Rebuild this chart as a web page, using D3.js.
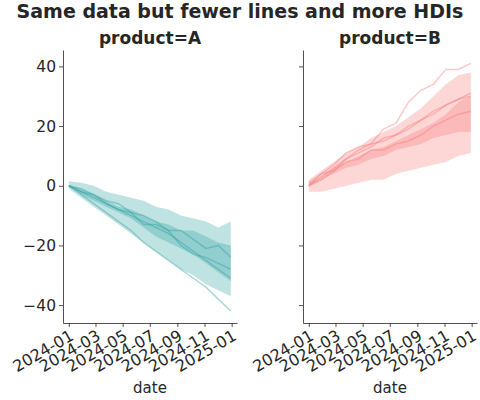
<!DOCTYPE html><html><head><meta charset="utf-8"><script src="https://cdn.jsdelivr.net/npm/d3@7"></script>
<style>body{margin:0;background:#fff}text{font-family:"DejaVu Sans",sans-serif;fill:#262626}</style></head><body><svg id="c" width="480" height="400"></svg>
<script>
const weeks=[0,4,8,12,16,20,24,28,32,36,40,44,48,52];
const yTicks=[-40,-20,0,20,40];
const xTickLabels=["2024-01","2024-03","2024-05","2024-07","2024-09","2024-11","2025-01"];
const aOuterLo=[-1,-4,-7,-10,-13,-16,-19,-22,-25,-28,-30,-33,-35,-37];
const aOuterHi=[1.5,1,0,-2,-3,-4,-5,-7,-8,-10,-11,-12,-14,-12];
const aInnerLo=[0,-3,-5,-7,-9,-11,-14,-17,-19,-21,-23,-26,-29,-32];
const aInnerHi=[0,-1,-3,-5,-7,-8,-10,-12,-13,-15,-15,-17,-19,-20];
const aLines=[[0,-3,-6,-9,-12,-15,-19,-22,-25,-28,-31,-34,-38,-42],
[0,-2,-4,-6,-8,-10,-12,-14,-16,-19,-22,-25,-28,-31],
[0,-1,-3,-6,-8,-9,-13,-13,-15,-20,-23,-24,-26,-28],
[0,-2,-3,-5,-6,-9,-10,-12,-15,-15,-18,-21,-20,-24]];
const bOuterLo=[-2,-2,-1,0,1,2,2,4,5,6,7,8,10,11];
const bOuterHi=[2,5,8,11,13,16,18,20,23,26,30,34,37,38];
const bInnerLo=[0,2,4,6,7,9,10,12,13,14,16,17,18,18];
const bInnerHi=[1,3,6,8,10,12,13,15,17,19,21,24,28,30];
const bLines=[[1,4,7,11,13,14,19,21,28,32,34,39,39,41],
[0,3,6,9,11,13,16,17,20,22,24,27,29,30],
[0,2,5,8,9,12,12,14,15,17,20,22,24,25],
[0,4,5,9,12,14,15,17,19,22,25,27,29,31]];
const svg=d3.select("#c");
const t0=new Date(2024,0,1);
const dates=weeks.map(w=>d3.timeDay.offset(t0,Math.min(w*7,365)));
const y=d3.scaleLinear().domain([-46,45.5]).range([323,50]);
svg.append("text").attr("x",240).attr("y",18).attr("text-anchor","middle").style("font-size","19px").style("font-weight","bold").text("Same data but fewer lines and more HDIs");
function panel(x0,x1,name,color,oLo,oHi,iLo,iHi,lines,showY){
  const x=d3.scaleTime().domain([new Date(2023,11,19),new Date(2025,0,13)]).range([x0,x1]);
  const g=svg.append("g");
  const area=(lo,hi)=>d3.area().x((d,i)=>x(dates[i])).y0((d,i)=>y(lo[i])).y1((d,i)=>y(hi[i]))(lo);
  g.append("path").attr("d",area(oLo,oHi)).attr("fill",color).attr("opacity",0.3);
  g.append("path").attr("d",area(iLo,iHi)).attr("fill",color).attr("opacity",0.3);
  lines.forEach(l=>g.append("path").attr("d",d3.line().x((d,i)=>x(dates[i])).y(d=>y(d))(l)).attr("fill","none").attr("stroke",color).attr("stroke-width",1.5).attr("opacity",0.4));
  const xa=g.append("g").attr("transform","translate(0,323)").call(d3.axisBottom(x).tickValues(xTickLabels.map(s=>d3.timeParse("%Y-%m")(s))).tickFormat(d3.timeFormat("%Y-%m")).tickSize(4).tickSizeOuter(0));
  xa.selectAll("text").attr("text-anchor","end").attr("transform","rotate(-30)").attr("dx","-0.2em").attr("dy","0.6em").style("font-size","16px");
  const ya=g.append("g").attr("transform",`translate(${x0},0)`).call(d3.axisLeft(y).tickValues(yTicks).tickSize(4).tickSizeOuter(0).tickFormat(showY?d3.format("d"):""));
  ya.selectAll("text").style("font-size","15.5px").text(d=>showY?(d<0?"\u2212"+(-d):d):"");
  g.selectAll(".domain,.tick line").attr("stroke","#262626").attr("stroke-width",0.8);
  g.append("text").attr("x",(x0+x1)/2).attr("y",44).attr("text-anchor","middle").style("font-size","17px").style("font-weight","bold").text(name);
  g.append("text").attr("x",(x0+x1)/2).attr("y",393).attr("text-anchor","middle").style("font-size","15px").text("date");
}
panel(63,237,"product=A","#2a9fa0",aOuterLo,aOuterHi,aInnerLo,aInnerHi,aLines,true);
panel(303,477,"product=B","#f77878",bOuterLo,bOuterHi,bInnerLo,bInnerHi,bLines,false);
</script></body></html>
